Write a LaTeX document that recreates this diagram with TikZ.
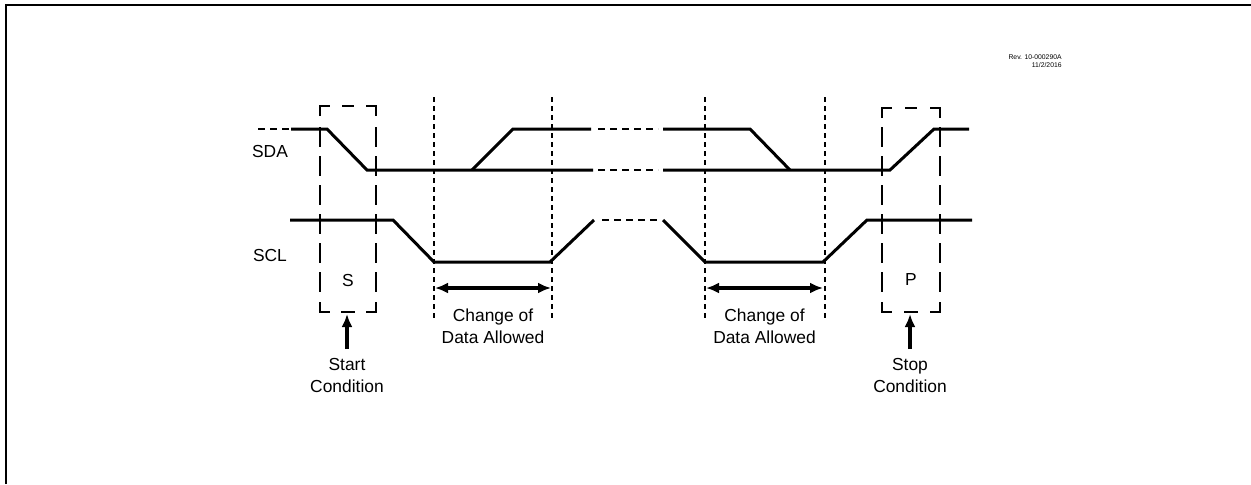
\documentclass[tikz,border=0pt]{standalone}
\usepackage{fontspec}
\setmainfont{Liberation Sans}
\usetikzlibrary{arrows.meta, positioning}

\begin{document}
\begin{tikzpicture}[
		x=0.5pt, y=-0.5pt,
		>={Latex[length=6.5pt,width=5.5pt]},
		every node/.style={font=\fontsize{8.7}{11}\selectfont, inner sep=0pt, align=center},
		frame/.style={line width=1.15pt},
		sig/.style={line width=1.5pt},
		bridge/.style={line width=0.85pt, dash pattern=on 3.5pt off 2.5pt},
		guide/.style={line width=0.75pt, dash pattern=on 2.5pt off 2pt},
		corner/.style={line width=1.2pt},
		side/.style={line width=0.9pt, dash pattern=on 10pt off 4.5pt},
		pointer/.style={->, line width=1.6pt},
		span/.style={<->, line width=1.6pt},
		rev/.style={font=\fontsize{3.4}{4}\selectfont, align=right}
		]
		\useasboundingbox (0,0) rectangle (1251,484);
		
		% --- Sheet frame and revision note ---
		\draw[frame] (6,484) |- (1251,5);
		\node[rev, anchor=east] (revno) at (1062,61) {Rev. 10-000290A\\11/2/2016};
		
		% --- Signal names ---
		\node (sda) at (270,151) {SDA};
		\node (scl) at (270,255) {SCL};
		
		% --- SDA ---
		\draw[bridge] (258,129) -- (291,129);
		\draw[sig] (291,129) -- (327,129) -- (367,170) -- (593,170);
		\draw[sig] (472,170) -- (513,129) -- (591,129);
		\draw[bridge] (598,129) -- (658,129);
		\draw[bridge] (598,170) -- (658,170);
		\draw[sig] (663,129) -- (750,129) -- (790,170);
		\draw[sig] (663,170) -- (890,170) -- (934,129) -- (969,129);
		
		% --- SCL ---
		\draw[sig] (290,220) -- (393,220) -- (434,262) -- (550,262) -- (594,220);
		\draw[bridge] (602,220) -- (660,220);
		\draw[sig] (663,220) -- (705,262) -- (823,262) -- (867,220) -- (972,220);
		
		% --- Data valid guides ---
		\foreach \gx in {434,552,705,825}
		\draw[guide] (\gx,97) -- (\gx,320);
		
		% --- Change of data windows ---
		\foreach \ga/\gb/\n in {435/551/1, 706/823/2} {
			\coordinate (span\n a) at (\ga,288);
			\coordinate (span\n b) at (\gb,288);
			\draw[span] (span\n a) -- (span\n b);
			\node (change\n) at ({(\ga+\gb)/2},326) {Change of\\Data Allowed};
		}
		
		% --- Start / stop condition boxes ---
		\foreach \xl/\xm/\xr/\yt/\tag/\word in {320/348/376/106/S/Start, 882/911/940/108/P/Stop} {
			\draw[corner] (\xl,\yt+10) |- (\xl+10,\yt);
			\draw[corner] (\xr-10,\yt) -| (\xr,\yt+10);
			\draw[corner] (\xl,302) |- (\xl+10,312);
			\draw[corner] (\xr-10,312) -| (\xr,302);
			\draw[corner] (\xm-6,\yt) -- (\xm+6,\yt);
			\draw[corner] (\xm-7,312) -- (\xm+7,312);
			\draw[side] (\xl,127) -- (\xl,292);
			\draw[side] (\xr,127) -- (\xr,292);
			\node (\tag) at (\xm,280) {\tag};
			\coordinate (\tag bot) at (\xm-1,314);
			\node[below=22pt of \tag bot] (\tag txt) {\word\\Condition};
			\draw[pointer] ([yshift=4.5pt]\tag txt.north) -- (\tag bot);
		}
	\end{tikzpicture}
\end{document}
